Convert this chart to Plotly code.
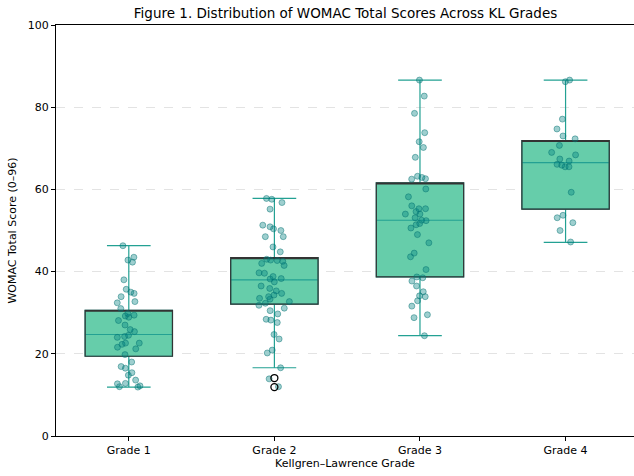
import plotly.graph_objects as go

# ---- data ----
grades = ["Grade 1", "Grade 2", "Grade 3", "Grade 4"]
q1 = [19.4, 32.1, 38.7, 55.2]
median = [24.7, 38.0, 52.5, 66.5]
q3 = [30.6, 43.4, 61.6, 71.9]
lower_whisker = [11.9, 16.6, 24.4, 47.1]
upper_whisker = [46.3, 57.8, 86.6, 86.6]

grade1_scores = [46.3, 43.5, 42.3, 42.8, 38.0, 35.7, 34.7, 35.0, 33.9, 32.4,
                 32.7, 31.0, 29.8, 29.4, 29.2, 28.9, 28.1, 27.0, 25.9, 25.4,
                 24.2, 24.5, 24.0, 22.6, 22.3, 22.6, 21.6, 21.2, 19.8, 18.0,
                 16.9, 16.5, 15.4, 14.8, 13.6, 12.8, 12.7, 12.0, 11.9, 12.2]
grade2_scores = [57.6, 57.8, 56.8, 55.2, 51.3, 50.9, 50.4, 50.0, 48.5, 48.5,
                 46.0, 44.8, 42.8, 42.7, 43.0, 42.5, 41.5, 42.0, 39.7, 39.6,
                 38.8, 38.3, 38.2, 37.5, 36.5, 35.9, 35.3, 34.7, 34.3, 33.9,
                 33.5, 33.3, 32.7, 32.3, 31.8, 29.7, 28.4, 28.2, 30.5, 31.1,
                 27.6, 24.7, 23.6, 20.2, 20.9, 16.6, 13.9, 12.0]
grade3_scores = [86.6, 82.7, 78.5, 73.8, 71.6, 70.2, 67.8, 62.5, 62.9, 63.2,
                 62.6, 60.1, 58.2, 56.0, 55.3, 55.3, 54.6, 54.0, 54.0, 53.1,
                 52.5, 52.4, 51.7, 51.4, 50.6, 49.0, 47.0, 44.5, 43.6, 40.5,
                 38.7, 38.5, 37.7, 36.5, 35.1, 33.9, 34.1, 32.9, 31.6, 29.5,
                 28.8, 24.4]
grade4_scores = [86.6, 86.2, 77.1, 74.7, 73.0, 72.3, 70.7, 69.0, 68.4, 67.4,
                 66.9, 66.1, 65.9, 65.5, 65.5, 59.3, 53.7, 53.1, 51.9, 50.0,
                 47.2]
grade2_outliers = [14.1, 11.9]

y_ticks = [0, 20, 40, 60, 80, 100]

# ---- styles ----
BOX_FILL = "#66cdaa"
TEAL_LINE = "#23a193"
EDGE = "#333333"
PT_FILL = "rgba(0,128,128,0.38)"
PT_EDGE = "rgba(0,110,110,0.45)"
FONT = "DejaVu Sans"

fig = go.Figure()

# filled box with teal whiskers and median
fig.add_trace(go.Box(
    x=grades, q1=q1, median=median, q3=q3,
    lowerfence=lower_whisker, upperfence=upper_whisker,
    width=0.6, whiskerwidth=0.5, boxpoints=False,
    fillcolor=BOX_FILL, line=dict(color=TEAL_LINE, width=1.2),
    showlegend=False, hoverinfo="skip"))

# dark box outline (no whiskers)
fig.add_trace(go.Box(
    x=grades, q1=q1, median=q3, q3=q3,
    lowerfence=q1, upperfence=q3,
    width=0.6, whiskerwidth=0, boxpoints=False,
    fillcolor="rgba(0,0,0,0)", line=dict(color=EDGE, width=1.2),
    showlegend=False, hoverinfo="skip"))

# jittered individual scores
for g, scores in zip(grades, [grade1_scores, grade2_scores, grade3_scores, grade4_scores]):
    fig.add_trace(go.Box(
        x=[g] * len(scores), y=scores,
        boxpoints="all", jitter=0.4, pointpos=0, width=0.6,
        fillcolor="rgba(0,0,0,0)", line=dict(color="rgba(0,0,0,0)", width=0),
        marker=dict(size=6, color=PT_FILL, line=dict(color=PT_EDGE, width=1)),
        showlegend=False, hoverinfo="skip"))

# outliers (fliers)
fig.add_trace(go.Scatter(
    x=["Grade 2"] * len(grade2_outliers), y=grade2_outliers, mode="markers",
    marker=dict(size=7, color="rgba(0,0,0,0)", line=dict(color="black", width=1.3)),
    showlegend=False, hoverinfo="skip"))

fig.update_layout(
    width=634, height=476,
    margin=dict(l=56, r=0, t=25, b=40),
    paper_bgcolor="white", plot_bgcolor="white",
    boxmode="overlay",
    font=dict(family=FONT, size=11, color="black"),
    title=dict(text="Figure 1. Distribution of WOMAC Total Scores Across KL Grades",
               x=0.545, xanchor="center", y=0.9727, yref="container", yanchor="middle",
               pad=dict(t=0, b=0),
               font=dict(family=FONT, size=13.5, color="black")),
)
fig.update_xaxes(
    type="category", categoryorder="array", categoryarray=grades,
    range=[-0.5, 3.47],
    showline=True, linecolor="black", linewidth=1, mirror=True,
    ticks="outside", ticklen=4, tickcolor="black", showgrid=False,
    title=dict(text="Kellgren–Lawrence Grade", standoff=3, font=dict(size=11)))
fig.update_yaxes(
    range=[0, 100], tickvals=y_ticks,
    showline=True, linecolor="black", linewidth=1, mirror=False,
    ticks="outside", ticklen=4, tickcolor="black",
    showgrid=True, gridcolor="#e3e3e3", griddash="dash", gridwidth=1,
    zeroline=False,
    title=dict(text="WOMAC Total Score (0–96)", standoff=8, font=dict(size=11)))

# remove the browser's default 8px body margin so the figure sits at the window's corner
fig.write_html("out.html", config={"displayModeBar": False},
               post_script="document.body.style.margin='0';")
